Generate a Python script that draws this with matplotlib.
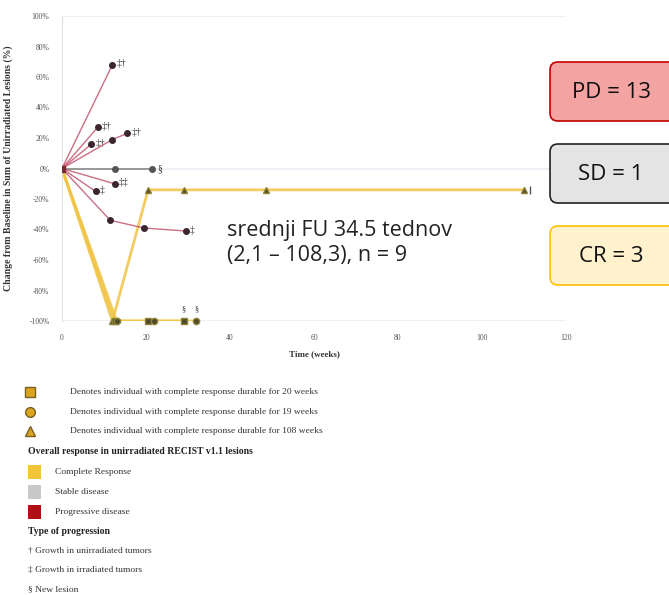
import matplotlib.pyplot as plt
from matplotlib.patches import FancyBboxPatch, Rectangle

# progressive disease patients: weeks, % change, progression label
pd_weeks = [[0, 12], [0, 8.5], [0, 7], [0, 12, 15.5], [0, 12.5], [0, 8], [0, 11.5, 19.5, 29.5]]
pd_change = [[0, 68], [0, 27], [0, 16], [0, 19, 23], [0, -10], [0, -15], [0, -34, -39, -41]]
pd_marks = ["‡†", "‡†", "‡†", "‡†", "‡‡", "‡", "‡"]

# stable disease patient
sd_weeks = [0, 12.5, 21.5]
sd_change = [0, 0, 0]
sd_mark = "§"

# complete response patients
cr_weeks = [[0, 12, 20.5, 29, 48.5, 110], [0, 12.5, 20.5, 29], [0, 13, 22, 32]]
cr_change = [[0, -100, -14, -14, -14, -14], [0, -100, -100, -100], [0, -100, -100, -100]]
cr_shapes = ["^", "s", "o"]
cr_marks = ["", "§", "§"]

yticks = [100, 80, 60, 40, 20, 0, -20, -40, -60, -80, -100]
xticks = [0, 20, 40, 60, 80, 100, 120]

summary = [("PD = 13", "#f4a3a3", "#c00000"), ("SD = 1", "#e4e4e4", "#222222"), ("CR = 3", "#fff2cc", "#ffc000")]

legend_markers = [("s", "Denotes individual with complete response durable for 20 weeks"),
                  ("o", "Denotes individual with complete response durable for 19 weeks"),
                  ("^", "Denotes individual with complete response durable for 108 weeks")]
legend_resp = [("#f2c438", "Complete Response"), ("#c8c8c8", "Stable disease"), ("#b01015", "Progressive disease")]
legend_prog = ["† Growth in unirradiated tumors", "‡ Growth in irradiated tumors", "§ New lesion"]

W, H = 669, 595
fig = plt.figure(figsize=(W / 100, H / 100), dpi=100)
ax = fig.add_axes([62 / W, 1 - 321 / H, 504 / W, 305 / H])
serif = "Liberation Serif"

PD_COL, SD_COL, CR_COL, MK = "#c2566e", "#8a8a8a", "#f0c445", "#3b2630"

for yv in [100, 0, -100]:
    ax.axhline(yv, color="#ececf4", lw=1.2, zorder=0)

for w, c in zip(cr_weeks, cr_change):
    ax.plot(w, c, color=CR_COL, lw=2, alpha=0.85, zorder=2)
for w, c, shp, m in zip(cr_weeks, cr_change, cr_shapes, cr_marks):
    ax.plot(w[1:], c[1:], ls="none", marker=shp, ms=4.5, color="#4e4a2c", mec="#8f8235", zorder=4, clip_on=False)
    if m:
        ax.text(w[-1], c[-1] + 5, m, fontsize=6, family=serif, ha="center", va="bottom", color="#333333")
ax.plot([cr_weeks[0][-1] + 1.5], [cr_change[0][-1]], marker="|", ms=6, color="#555555")

ax.plot(sd_weeks, sd_change, color=SD_COL, lw=1.2, marker="o", ms=4, mfc="#555555", mec="#555555", zorder=3)
ax.text(sd_weeks[-1] + 1.2, sd_change[-1], sd_mark, fontsize=7, family=serif, va="center", color="#333333")

for w, c, m in zip(pd_weeks, pd_change, pd_marks):
    ax.plot(w, c, color=PD_COL, lw=1.0, alpha=0.85, zorder=3)
    ax.plot(w[1:], c[1:], ls="none", marker="o", ms=4, color=MK, zorder=4)
    ax.text(w[-1] + 1.0, c[-1] + 1, m, fontsize=7, family=serif, va="center", color="#333333")
ax.plot([0], [0], marker="s", ms=5, color="#7a2a35", zorder=5)

ax.set_xlim(0, 120)
ax.set_ylim(-100, 100)
ax.set_yticks(yticks)
ax.set_yticklabels([f"{v}%" for v in yticks], fontsize=5.5, family=serif, color="#555555")
ax.set_xticks(xticks)
ax.set_xticklabels([str(v) for v in xticks], fontsize=5.5, family=serif, color="#555555")
ax.tick_params(length=0, pad=9)
for s in ["top", "right", "bottom"]:
    ax.spines[s].set_visible(False)
ax.spines["left"].set_color("#e0e0e8")
ax.set_xlabel("Time (weeks)", fontsize=6.5, family=serif, fontweight="bold", color="#333333", labelpad=6)
ax.set_ylabel("Change from Baseline in Sum of Unirradiated Lesions (%)", fontsize=7, family=serif,
              fontweight="bold", color="#333333", labelpad=12)

# overlay in pixel coordinates
ov = fig.add_axes([0, 0, 1, 1])
ov.set_xlim(0, W)
ov.set_ylim(H, 0)
ov.axis("off")
ov.patch.set_alpha(0)

ov.text(227, 243, "srednji FU 34.5 tednov\n(2,1 – 108,3), n = 9", fontsize=15.5,
        family="Open Sans", color="#222222", va="center", ha="left", linespacing=1.2)

for i, (txt, fc, ec) in enumerate(summary):
    y0 = 62 + i * 82
    ov.add_patch(FancyBboxPatch((550, y0), 130, 59, boxstyle="round,pad=0,rounding_size=8",
                                fc=fc, ec=ec, lw=1.2, clip_on=False))
    ov.text(611, y0 + 30, txt, fontsize=16, family="Open Sans",
            ha="center", va="center", color="#111111")

for i, (shp, txt) in enumerate(legend_markers):
    y = 392 + i * 19.5
    ov.plot([30], [y], marker=shp, ms=7, color="#d9a521", mec="#7a6020", mew=1)
    ov.text(70, y, txt, fontsize=6.8, family=serif, va="center", color="#333333")

ov.text(28, 452, "Overall response in unirradiated RECIST v1.1 lesions", fontsize=7, family=serif,
        fontweight="bold", va="center", color="#222222")
for i, (col, txt) in enumerate(legend_resp):
    y = 472 + i * 20
    ov.add_patch(Rectangle((28, y - 7), 13, 14, fc=col, ec="none"))
    ov.text(55, y, txt, fontsize=6.8, family=serif, va="center", color="#333333")

ov.text(28, 532, "Type of progression", fontsize=7, family=serif, fontweight="bold", va="center", color="#222222")
for i, txt in enumerate(legend_prog):
    ov.text(28, 551 + i * 19, txt, fontsize=6.8, family=serif, va="center", color="#333333")

fig.savefig("out.png", dpi=100)
